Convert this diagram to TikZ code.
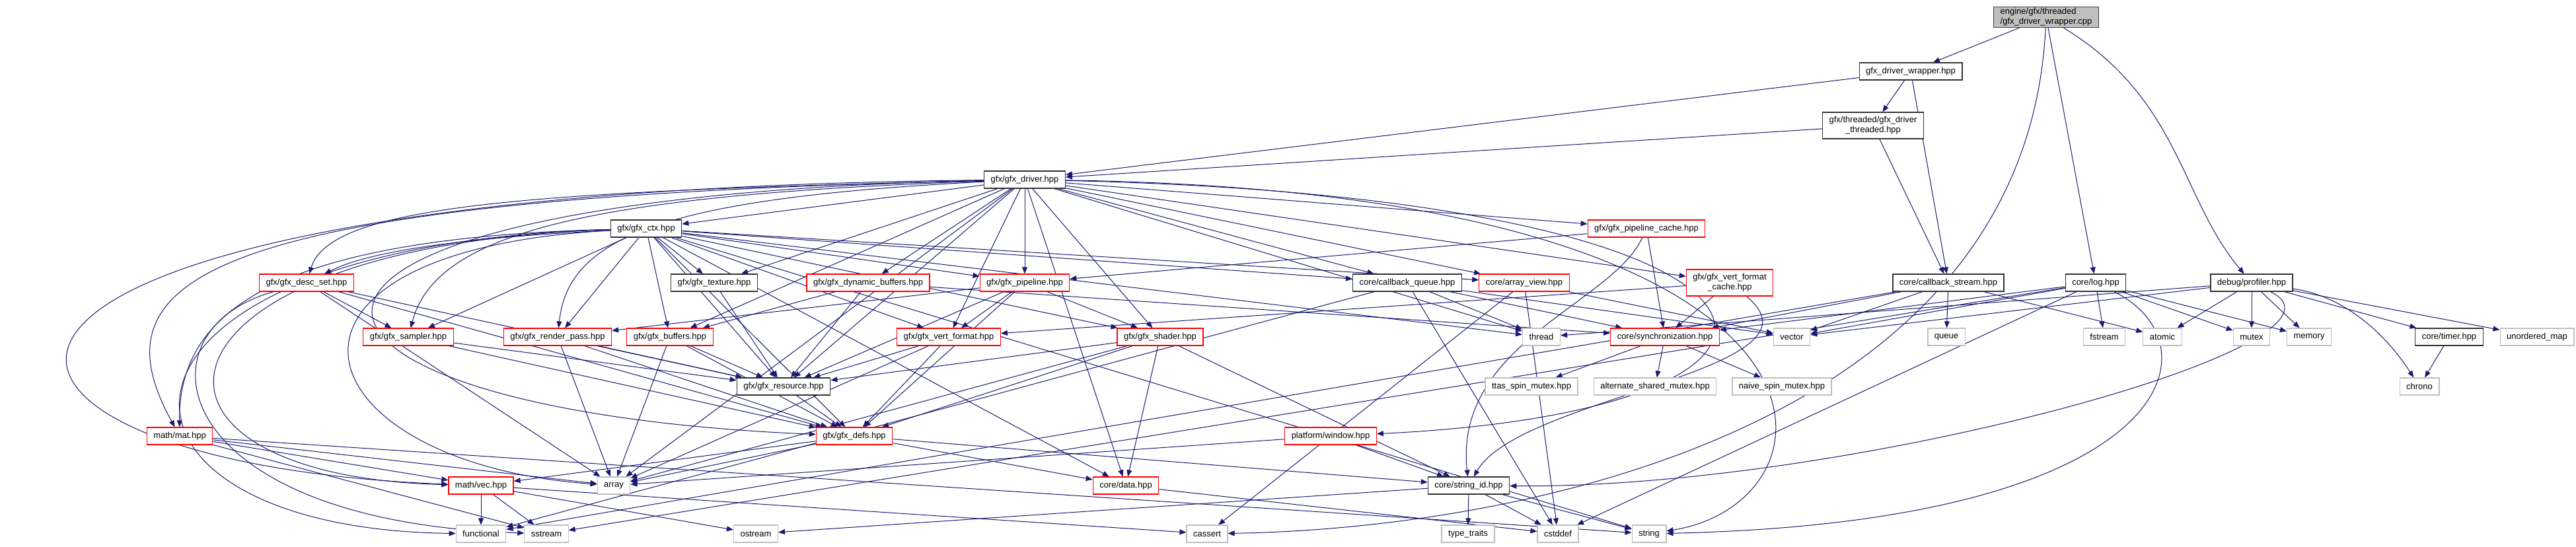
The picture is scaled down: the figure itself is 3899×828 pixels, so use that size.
\documentclass[tikz,border=0pt]{standalone}
\usepackage{fontspec}
\setmainfont{Liberation Sans}
\usetikzlibrary{arrows.meta}
\definecolor{depblue}{HTML}{191970}
\definecolor{sysgray}{HTML}{BFBFBF}
\pgfdeclarelayer{edges}
\pgfsetlayers{edges,main}

\begin{document}
\begin{tikzpicture}[x=0.5pt,y=-0.5pt]
\tikzset{
  filebox/.style={rectangle,draw=black!80,fill=white,line width=0.6pt,minimum height=13pt,inner xsep=5pt,inner ysep=1pt,font=\fontsize{6.5pt}{7.5pt}\selectfont},
  redbox/.style={filebox,draw=red},
  sysbox/.style={filebox,draw=sysgray},
  rootbox/.style={filebox,fill=sysgray,draw=black!75,align=left},
  twoline/.style={align=center,minimum height=20pt},
  include/.style={-{Triangle[length=5pt,width=4pt]},draw=depblue,line width=0.5pt}
}
\useasboundingbox (0,0) rectangle (3899,828);
\node[rootbox] (n_root) at (3097,26) {engine/gfx/threaded\\/gfx\_driver\_wrapper.cpp};
\node[filebox] (n_wrapper) at (2892,108) {gfx\_driver\_wrapper.hpp};
\node[filebox,twoline] (n_threaded) at (2835,190) {gfx/threaded/gfx\_driver\\\_threaded.hpp};
\node[filebox] (n_driver) at (1551,272) {gfx/gfx\_driver.hpp};
\node[filebox] (n_ctx) at (978,346) {gfx/gfx\_ctx.hpp};
\node[redbox] (n_pcache) at (2492,346) {gfx/gfx\_pipeline\_cache.hpp};
\node[redbox,twoline] (n_vfcache) at (2618,428) {gfx/gfx\_vert\_format\\\_cache.hpp};
\node[redbox] (n_descset) at (464,428) {gfx/gfx\_desc\_set.hpp};
\node[filebox] (n_texture) at (1081,428) {gfx/gfx\_texture.hpp};
\node[redbox] (n_dynbuf) at (1314,428) {gfx/gfx\_dynamic\_buffers.hpp};
\node[redbox] (n_pipeline) at (1551,428) {gfx/gfx\_pipeline.hpp};
\node[filebox] (n_cbqueue) at (2130,428) {core/callback\_queue.hpp};
\node[redbox] (n_arrayview) at (2307,428) {core/array\_view.hpp};
\node[filebox] (n_cbstream) at (2949,428) {core/callback\_stream.hpp};
\node[filebox] (n_log) at (3172,428) {core/log.hpp};
\node[filebox] (n_profiler) at (3408,428) {debug/profiler.hpp};
\node[redbox] (n_sampler) at (618,510) {gfx/gfx\_sampler.hpp};
\node[redbox] (n_renderpass) at (844,510) {gfx/gfx\_render\_pass.hpp};
\node[redbox] (n_buffers) at (1014,510) {gfx/gfx\_buffers.hpp};
\node[redbox] (n_vertformat) at (1436,510) {gfx/gfx\_vert\_format.hpp};
\node[redbox] (n_shader) at (1756,510) {gfx/gfx\_shader.hpp};
\node[sysbox] (n_thread) at (2333,510) {thread};
\node[redbox] (n_sync) at (2520,510) {core/synchronization.hpp};
\node[sysbox] (n_vector) at (2712,510) {vector};
\node[sysbox] (n_queue) at (2946,510) {queue};
\node[sysbox] (n_fstream) at (3185,510) {fstream};
\node[sysbox] (n_atomic) at (3273,510) {atomic};
\node[sysbox] (n_mutex) at (3408,510) {mutex};
\node[sysbox] (n_memory) at (3495,510) {memory};
\node[filebox] (n_timer) at (3707,510) {core/timer.hpp};
\node[sysbox] (n_umap) at (3840,510) {unordered\_map};
\node[filebox] (n_resource) at (1186,585) {gfx/gfx\_resource.hpp};
\node[sysbox] (n_ttas) at (2318,585) {ttas\_spin\_mutex.hpp};
\node[sysbox] (n_altmutex) at (2505,585) {alternate\_shared\_mutex.hpp};
\node[sysbox] (n_naive) at (2697,585) {naive\_spin\_mutex.hpp};
\node[sysbox] (n_chrono) at (3662,585) {chrono};
\node[redbox] (n_mat) at (272,660) {math/mat.hpp};
\node[redbox] (n_defs) at (1293,660) {gfx/gfx\_defs.hpp};
\node[redbox] (n_window) at (2014,660) {platform/window.hpp};
\node[redbox] (n_vec) at (728,735) {math/vec.hpp};
\node[sysbox] (n_array) at (929,735) {array};
\node[redbox] (n_data) at (1704,735) {core/data.hpp};
\node[filebox] (n_stringid) at (2223,735) {core/string\_id.hpp};
\node[sysbox] (n_functional) at (728,808) {functional};
\node[sysbox] (n_sstream) at (827,808) {sstream};
\node[sysbox] (n_ostream) at (1144,808) {ostream};
\node[sysbox] (n_cassert) at (1827,808) {cassert};
\node[sysbox] (n_typetraits) at (2222,808) {type\_traits};
\node[sysbox] (n_cstddef) at (2358,808) {cstddef};
\node[sysbox] (n_string) at (2496,808) {string};
\begin{pgfonlayer}{edges}
\draw[include] (n_root) -- (n_wrapper);
\draw[include] (n_root) -- (n_log);
\draw[include] (n_root) .. controls (3300,150) and (3300,300) .. (n_profiler);
\draw[include] (n_root) .. controls (3066,650) and (2300,800) .. (n_cassert);
\draw[include] (n_wrapper) -- (n_driver);
\draw[include] (n_wrapper) -- (n_threaded);
\draw[include] (n_wrapper) -- (n_cbstream);
\draw[include] (n_threaded) -- (n_driver);
\draw[include] (n_threaded) -- (n_cbstream);
\draw[include] (n_driver) -- (n_ctx);
\draw[include] (n_driver) -- (n_pcache);
\draw[include] (n_driver) -- (n_vfcache);
\draw[include] (n_driver) .. controls (800,290) and (500,310) .. (n_descset);
\draw[include] (n_driver) -- (n_texture);
\draw[include] (n_driver) -- (n_dynbuf);
\draw[include] (n_driver) -- (n_pipeline);
\draw[include] (n_driver) -- (n_cbqueue);
\draw[include] (n_driver) -- (n_arrayview);
\draw[include] (n_driver) .. controls (900,295) and (660,350) .. (n_sampler);
\draw[include] (n_driver) .. controls (1000,300) and (860,360) .. (n_renderpass);
\draw[include] (n_driver) -- (n_buffers);
\draw[include] (n_driver) -- (n_vertformat);
\draw[include] (n_driver) -- (n_shader);
\draw[include] (n_driver) -- (n_thread);
\draw[include] (n_driver) -- (n_resource);
\draw[include] (n_driver) .. controls (250,300) and (350,620) .. (n_defs);
\draw[include] (n_driver) -- (n_data);
\draw[include] (n_driver) -- (n_array);
\draw[include] (n_driver) .. controls (300,300) and (140,420) .. (n_mat);
\draw[include] (n_driver) .. controls (-250,290) and (-150,700) .. (n_vec);
\draw[include] (n_driver) .. controls (2800,300) and (2850,620) .. (n_window);
\draw[include] (n_driver) .. controls (2850,290) and (2800,760) .. (n_string);
\draw[include] (n_ctx) .. controls (700,360) and (560,380) .. (n_descset);
\draw[include] (n_ctx) -- (n_texture);
\draw[include] (n_ctx) -- (n_pipeline);
\draw[include] (n_ctx) -- (n_cbqueue);
\draw[include] (n_ctx) -- (n_arrayview);
\draw[include] (n_ctx) -- (n_sampler);
\draw[include] (n_ctx) -- (n_renderpass);
\draw[include] (n_ctx) -- (n_buffers);
\draw[include] (n_ctx) -- (n_vertformat);
\draw[include] (n_ctx) -- (n_shader);
\draw[include] (n_ctx) -- (n_resource);
\draw[include] (n_ctx) -- (n_defs);
\draw[include] (n_ctx) .. controls (350,380) and (450,700) .. (n_array);
\draw[include] (n_ctx) -- (n_data);
\draw[include] (n_ctx) -- (n_thread);
\draw[include] (n_ctx) -- (n_string);
\draw[include] (n_ctx) .. controls (400,360) and (270,480) .. (n_mat);
\draw[include] (n_ctx) .. controls (200,370) and (150,720) .. (n_vec);
\draw[include] (n_ctx) .. controls (100,370) and (100,800) .. (n_functional);
\draw[include] (n_pcache) -- (n_pipeline);
\draw[include] (n_pcache) -- (n_sync);
\draw[include] (n_pcache) .. controls (2440,460) and (2200,520) .. (n_stringid);
\draw[include] (n_vfcache) -- (n_vertformat);
\draw[include] (n_vfcache) -- (n_sync);
\draw[include] (n_vfcache) .. controls (2780,560) and (2300,600) .. (n_stringid);
\draw[include] (n_descset) -- (n_sampler);
\draw[include] (n_descset) -- (n_resource);
\draw[include] (n_descset) -- (n_defs);
\draw[include] (n_descset) -- (n_array);
\draw[include] (n_descset) .. controls (200,500) and (250,790) .. (n_sstream);
\draw[include] (n_texture) -- (n_resource);
\draw[include] (n_dynbuf) -- (n_buffers);
\draw[include] (n_dynbuf) -- (n_resource);
\draw[include] (n_dynbuf) -- (n_sync);
\draw[include] (n_pipeline) -- (n_renderpass);
\draw[include] (n_pipeline) -- (n_vertformat);
\draw[include] (n_pipeline) -- (n_shader);
\draw[include] (n_pipeline) -- (n_resource);
\draw[include] (n_pipeline) -- (n_defs);
\draw[include] (n_cbqueue) -- (n_thread);
\draw[include] (n_cbqueue) -- (n_sync);
\draw[include] (n_cbqueue) -- (n_vector);
\draw[include] (n_cbqueue) -- (n_cstddef);
\draw[include] (n_cbqueue) -- (n_functional);
\draw[include] (n_arrayview) -- (n_vector);
\draw[include] (n_arrayview) -- (n_cstddef);
\draw[include] (n_arrayview) -- (n_cassert);
\draw[include] (n_cbstream) -- (n_queue);
\draw[include] (n_cbstream) -- (n_atomic);
\draw[include] (n_cbstream) -- (n_sync);
\draw[include] (n_cbstream) -- (n_vector);
\draw[include] (n_cbstream) -- (n_functional);
\draw[include] (n_log) -- (n_fstream);
\draw[include] (n_log) -- (n_mutex);
\draw[include] (n_log) -- (n_memory);
\draw[include] (n_log) -- (n_vector);
\draw[include] (n_log) -- (n_sync);
\draw[include] (n_log) -- (n_sstream);
\draw[include] (n_log) -- (n_cstddef);
\draw[include] (n_log) .. controls (3360,520) and (3300,790) .. (n_string);
\draw[include] (n_profiler) -- (n_atomic);
\draw[include] (n_profiler) -- (n_mutex);
\draw[include] (n_profiler) -- (n_memory);
\draw[include] (n_profiler) -- (n_timer);
\draw[include] (n_profiler) -- (n_umap);
\draw[include] (n_profiler) .. controls (3560,450) and (3620,520) .. (n_chrono);
\draw[include] (n_profiler) -- (n_vector);
\draw[include] (n_profiler) -- (n_thread);
\draw[include] (n_profiler) .. controls (3600,520) and (2800,740) .. (n_stringid);
\draw[include] (n_timer) -- (n_chrono);
\draw[include] (n_sampler) -- (n_resource);
\draw[include] (n_sampler) -- (n_defs);
\draw[include] (n_renderpass) -- (n_resource);
\draw[include] (n_renderpass) -- (n_defs);
\draw[include] (n_renderpass) -- (n_array);
\draw[include] (n_buffers) -- (n_resource);
\draw[include] (n_buffers) -- (n_defs);
\draw[include] (n_buffers) -- (n_array);
\draw[include] (n_vertformat) -- (n_resource);
\draw[include] (n_vertformat) -- (n_defs);
\draw[include] (n_vertformat) -- (n_array);
\draw[include] (n_shader) -- (n_resource);
\draw[include] (n_shader) -- (n_defs);
\draw[include] (n_shader) -- (n_data);
\draw[include] (n_shader) -- (n_array);
\draw[include] (n_shader) -- (n_stringid);
\draw[include] (n_sync) -- (n_ttas);
\draw[include] (n_sync) -- (n_altmutex);
\draw[include] (n_sync) -- (n_naive);
\draw[include] (n_resource) -- (n_defs);
\draw[include] (n_defs) -- (n_vec);
\draw[include] (n_defs) -- (n_array);
\draw[include] (n_defs) -- (n_data);
\draw[include] (n_defs) -- (n_stringid);
\draw[include] (n_window) -- (n_array);
\draw[include] (n_window) -- (n_stringid);
\draw[include] (n_mat) -- (n_vec);
\draw[include] (n_mat) -- (n_array);
\draw[include] (n_mat) -- (n_sstream);
\draw[include] (n_mat) -- (n_string);
\draw[include] (n_vec) -- (n_functional);
\draw[include] (n_vec) -- (n_sstream);
\draw[include] (n_vec) -- (n_ostream);
\draw[include] (n_vec) -- (n_cassert);
\draw[include] (n_data) -- (n_cstddef);
\draw[include] (n_stringid) -- (n_typetraits);
\draw[include] (n_stringid) -- (n_cstddef);
\draw[include] (n_stringid) -- (n_string);
\draw[include] (n_stringid) -- (n_ostream);
\end{pgfonlayer}
\end{tikzpicture}
\end{document}
